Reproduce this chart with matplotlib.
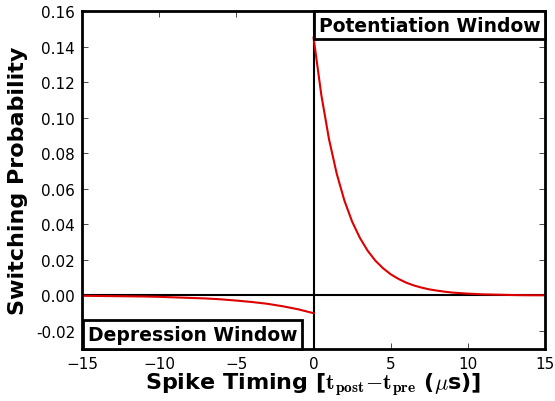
import matplotlib
matplotlib.use("Agg")
import matplotlib.pyplot as plt

# Datos
t_dep = [-15, -14, -13, -12, -11, -10, -9, -8, -7, -6, -5, -4, -3, -2, -1, 0]
p_dep = [-0.0002, -0.0003, -0.0004, -0.0005, -0.0006, -0.0008, -0.0011, -0.0014,
         -0.0017, -0.0022, -0.0029, -0.0037, -0.0047, -0.0061, -0.0078, -0.0100]

t_pot = [0, 0.5, 1, 1.5, 2, 2.5, 3, 3.5, 4, 4.5, 5, 5.5, 6, 6.5, 7, 7.5, 8, 8.5,
         9, 9.5, 10, 11, 12, 13, 14, 15]
p_pot = [0.145, 0.1129, 0.0879, 0.0685, 0.0533, 0.0415, 0.0324, 0.0252, 0.0196,
         0.0153, 0.0119, 0.0093, 0.0072, 0.0056, 0.0044, 0.0034, 0.0027, 0.0021,
         0.0016, 0.0013, 0.0010, 0.0006, 0.0004, 0.0002, 0.0001, 0.0001]

xticks = [-15, -10, -5, 0, 5, 10, 15]
yticks = [-0.02, 0.00, 0.02, 0.04, 0.06, 0.08, 0.10, 0.12, 0.14, 0.16]

plt.rcParams['mathtext.fontset'] = 'cm'

fig = plt.figure(figsize=(5.55, 4.02), dpi=100)
ax = fig.add_axes([0.148, 0.13, 0.834, 0.84])

ax.axhline(0, color='black', lw=1.5)
ax.axvline(0, color='black', lw=1.5)
ax.plot(t_dep, p_dep, color='#dd0000', lw=1.5)
ax.plot(t_pot, p_pot, color='#dd0000', lw=1.5)

ax.set_xlim(-15, 15)
ax.set_ylim(-0.03, 0.16)
ax.set_xticks(xticks)
ax.set_yticks(yticks)
ax.set_yticklabels(['%.2f' % v for v in yticks])
ax.tick_params(direction='in', length=4, width=0.5, labelsize=11, top=True, right=True, pad=5)
for s in ax.spines.values():
    s.set_linewidth(2)

ax.set_xlabel(r'Spike Timing [$\mathbf{t_{post}{-}t_{pre}}$ ($\mu$s)]',
              fontsize=16, fontweight='bold', labelpad=0)
ax.set_ylabel('Switching Probability', fontsize=16, fontweight='bold', labelpad=6)

ax.text(0.751, 0.986, 'Potentiation Window', transform=ax.transAxes, ha='center', va='top',
        fontsize=13.5, fontweight='bold',
        bbox=dict(boxstyle='square,pad=0.25', fc='white', ec='black', lw=2))
ax.text(0.239, 0.014, 'Depression Window', transform=ax.transAxes, ha='center', va='bottom',
        fontsize=13.5, fontweight='bold',
        bbox=dict(boxstyle='square,pad=0.25', fc='white', ec='black', lw=2))

fig.savefig('out.png', dpi=100)
